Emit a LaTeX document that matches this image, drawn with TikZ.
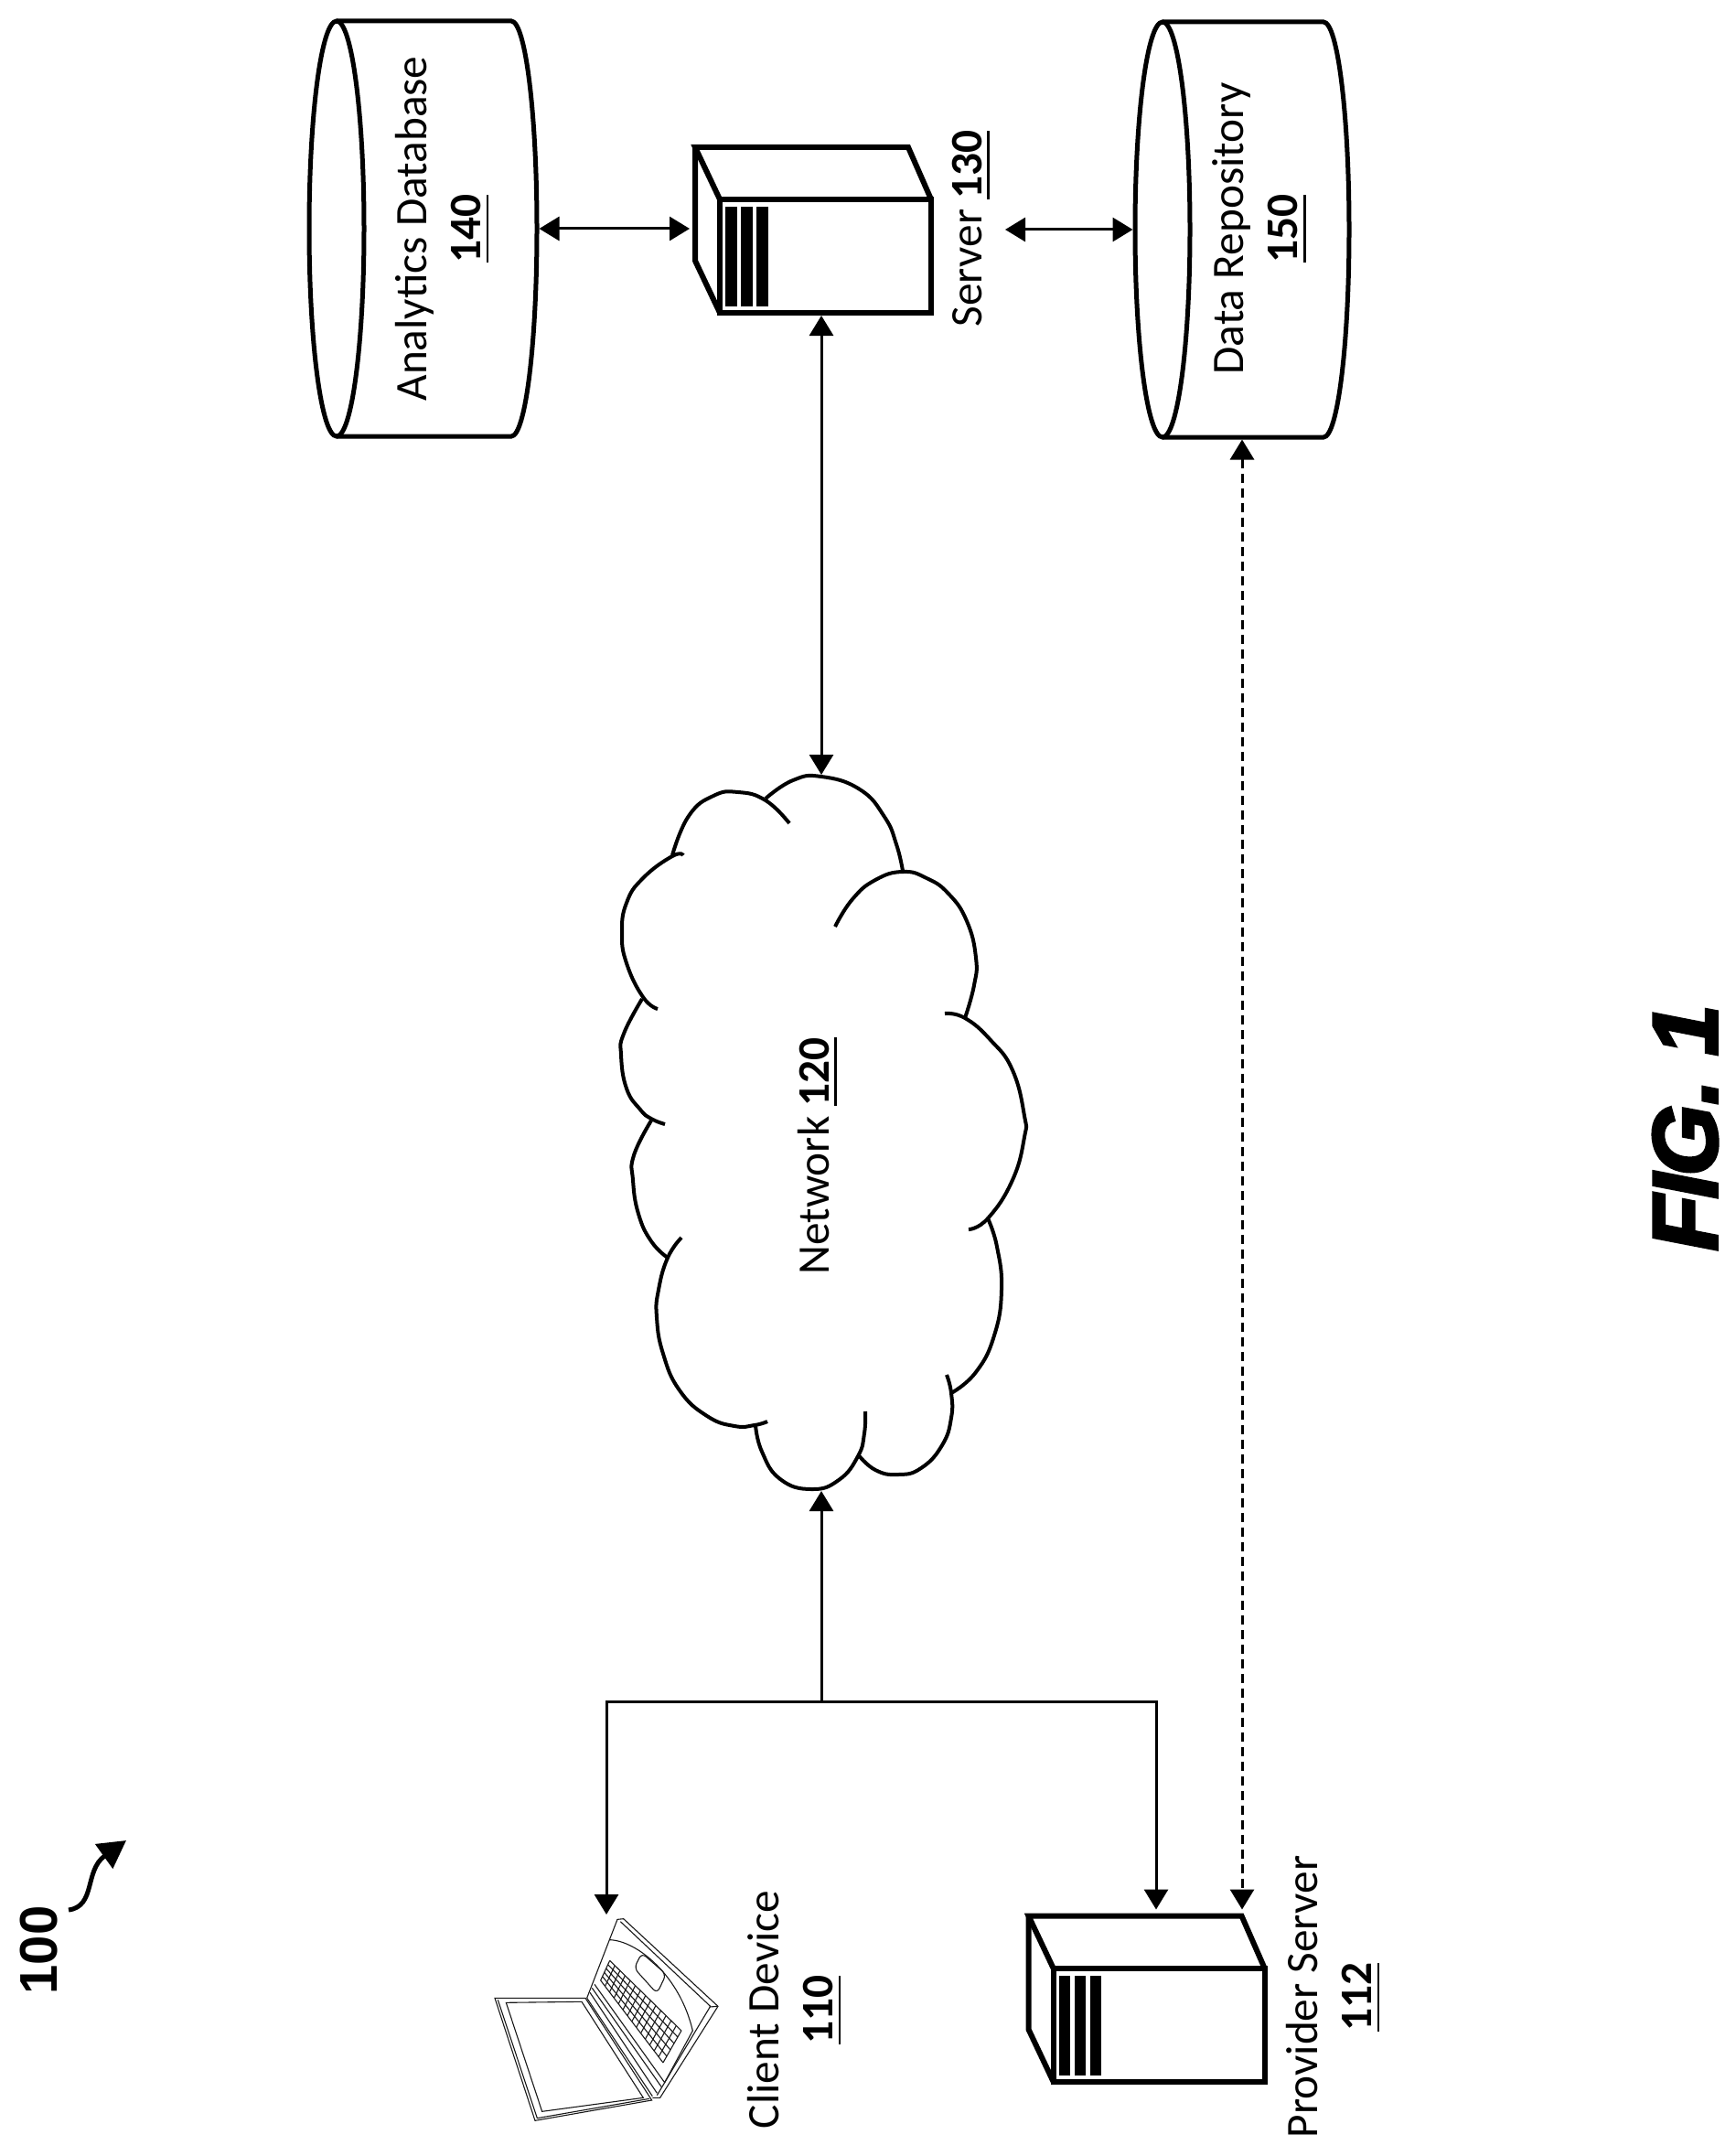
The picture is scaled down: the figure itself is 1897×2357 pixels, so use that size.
\documentclass[tikz,border=0pt]{standalone}
\usepackage{fontspec}
\setmainfont{Carlito}
\newfontfamily\refnumfont{Liberation Sans Bold}
\newfontfamily\figfont[FakeBold=3.5]{Liberation Sans Bold Italic}
\usetikzlibrary{shapes.geometric, arrows.meta, positioning, calc}

\newcommand{\refnum}[1]{\setbox0\hbox{\bfseries #1}\rlap{\rule[-9pt]{\wd0}{2.6pt}}\box0}
% front face node plus top and side faces
\newcommand{\serverbox}[2]{
    \node [serverfront] (#1) at (#2) {};
    \coordinate (#1nw) at ([shift={(3,3)}]#1.north west);
    \coordinate (#1top) at ([shift={(-3,-61)}]#1.north);
    \coordinate (#1corner) at ([shift={(-28,-61)}]#1.north east);
    \coordinate (#1side) at ([shift={(-30,-29)}]#1.west);
    \draw [serverline] (#1nw) -- ++(-27,-57) -- ++(233,0) -- ++(25,57);
    \draw [serverline] (#1nw) ++(-27,-57) -- ++(0,124) -- ([shift={(3,-3)}]#1.south west);
    \foreach \barx in {6,23,40} {
        \fill ([shift={(\barx,8)}]#1nw) rectangle ++(12.5,109);
    }
}
% drum lying on its side, open ellipse on the left
\newcommand{\dbdrum}[3]{
    \node [dbase, minimum width=#3] (#1) at (#2) {};
    \draw [dbline] ([xshift=32.5]#1.west) ellipse [x radius=30pt, y radius=227pt];
    \draw [dbline] ([shift={(32.5,2.5)}]#1.north west) -- ([shift={(-30.5,2.5)}]#1.north east)
        arc [start angle=90, end angle=-90, x radius=28pt, y radius=227pt]
        -- ([shift={(32.5,-2.5)}]#1.south west);
}

\begin{document}
\begin{tikzpicture}[
        x=1pt, y=-1pt,
        >={Triangle[length=22pt,width=26pt]},
        line/.style={draw, line width=3pt},
        dashline/.style={line, dash pattern=on 10pt off 6pt},
        cloudline/.style={draw, line width=4pt},
        dbase/.style={rectangle, outer sep=2.5pt, minimum height=454},
        dbline/.style={draw, line width=5pt},
        serverfront/.style={rectangle, draw, line width=6pt, minimum width=231, minimum height=124},
        serverline/.style={draw, line width=6pt, line join=miter},
        laptopline/.style={draw=black!90, line width=1.1pt},
        caption/.style={rotate=90, align=center, inner sep=0pt, font=\fontsize{49.3}{59}\selectfont},
        refarrow/.style={draw, line width=5pt, -{Triangle[length=30pt,width=32pt]}}
    ]
        \useasboundingbox (0,0) rectangle (1897,2357);

        % Nodes
        \dbdrum{analytics}{462.5,250}{249}
        \dbdrum{datarepo}{1358,251}{234}
        \serverbox{servermain}{902.5,280}
        \serverbox{provider}{1267,2213.5}
        \node [caption] (analyticslabel) at (483,250) {Analytics Database\\\refnum{140}};
        \node [caption] (datalabel) at (1377,250) {Data Repository\\\refnum{150}};
        \node [caption, anchor=base] (serverlabel) at (1073,250) {Server \refnum{130}};
        \node [caption, anchor=base] (networklabel) at (906,1264) {Network \refnum{120}};
        \node [caption] (clientlabel) at (868,2197) {Client Device\\\refnum{110}};
        \node [caption] (providerlabel) at (1457,2183) {Provider Server\\\refnum{112}};
        \node [rotate=90, anchor=base, inner sep=0pt, font=\fontsize{58}{58}\refnumfont] (figref) at (62,2132) {100};
        \node [rotate=90, anchor=base, inner sep=0pt, font=\fontsize{100}{100}\figfont] (figtitle) at (1877,1233) {F\kern-4pt I\kern-3pt G.\kern26pt 1};

        \coordinate (cloudtop) at (898,847);
        \coordinate (cloudbottom) at (898,1630);
        \coordinate (junction) at (898,1860);
        \coordinate (laptoptop) at (663,2093);
        \coordinate (repofree) at (1099,251);
        \coordinate (refstart) at (75,2088);
        \coordinate (reftip) at (138,2012);

        % Network cloud
        \tikzset{lobe/.style={smooth, tension=0.8}}
        \draw [cloudline] plot [lobe] coordinates {(837,873) (867,853) (898,849) (940,863) (967,893) (980,923) (987,952)};
        \draw [cloudline] plot [lobe] coordinates {(735,935) (753,892) (780,870) (807,866) (837,875) (863,900)};
        \draw [cloudline] plot [lobe] coordinates {(747,935) (735,936) (703,960) (685,987) (680,1020) (685,1053) (703,1090) (719,1103)};
        \draw [cloudline] plot [lobe] coordinates {(702,1092) (682,1130) (679,1153) (685,1190) (700,1213) (712,1223) (727,1229)};
        \draw [cloudline] plot [lobe] coordinates {(712,1225) (693,1263) (692,1290) (698,1327) (712,1357) (730,1375)};
        \draw [cloudline] plot [lobe] coordinates {(745,1353) (730,1375) (720,1410) (718,1440) (725,1480) (743,1520) (773,1548) (803,1559) (825,1558) (839,1554)};
        \draw [cloudline] plot [lobe] coordinates {(826,1558) (833,1587) (853,1617) (887,1628) (917,1618) (938,1592) (945,1567) (946,1543)};
        \draw [cloudline] plot [lobe] coordinates {(938,1590) (957,1607) (982,1612) (1007,1605) (1030,1580) (1040,1550) (1040,1523) (1035,1503)};
        \draw [cloudline] plot [lobe] coordinates {(1040,1523) (1067,1500) (1087,1460) (1095,1410) (1090,1363) (1080,1332)};
        \draw [cloudline] plot [lobe] coordinates {(1059,1344) (1080,1332) (1107,1290) (1120,1243) (1120,1220) (1107,1170) (1083,1137) (1055,1113) (1033,1108)};
        \draw [cloudline] plot [lobe] coordinates {(1055,1113) (1065,1077) (1067,1047) (1057,1007) (1037,977) (1013,960) (987,953) (957,962) (932,983) (913,1013)};

        % Laptop
        \begin{scope}[shift={(510,2050)}, x=0.3333pt, y=-0.3333pt, every path/.style={laptopline}]
            \draw (93,403) -- (390,403) -- (608,738) -- (225,805) -- cycle;
            \draw (103,409) -- (232,797) -- (600,733);
            \draw (130,418) -- (378,415) -- (580,730) -- (248,775) -- cycle;
            \draw (395,403) -- (495,145) -- (515,143) -- (825,430) -- (635,730) -- (610,730);
            \draw (505,152) -- (800,430) -- (625,722);
            \draw (825,430) -- (797,432);
            \draw (395,403) -- (610,725);
            \draw (405,385) -- (625,715);
            \draw (412,370) -- (640,695);
            \draw (420,358) -- (650,680) -- (742,510);
            \draw (470,212) .. controls (560,215) and (700,330) .. (742,510);
            \draw [rounded corners=6pt] (575,255) -- (655,325) -- (625,388) -- (550,305) -- cycle;
            \coordinate (keya) at (470,280);
            \coordinate (keyb) at (705,510);
            \coordinate (keyc) at (645,615);
            \coordinate (keyd) at (440,345);
            \foreach \t in {0,0.0714,...,1.01} {
                \draw ($(keya)!\t!(keyb)$) -- ($(keyd)!\t!(keyc)$);
            }
            \foreach \t in {0,0.2,...,1.01} {
                \draw ($(keya)!\t!(keyd)$) -- ($(keyb)!\t!(keyc)$);
            }
        \end{scope}

        % Paths
        \draw [line, <->] (analytics.east) -- (analytics.east -| servermainside);
        \draw [line, <->] (repofree) -- (datarepo.west);
        \draw [line, <->] (servermain.south -| cloudtop) -- (cloudtop);
        \draw [line, ->] (junction) -- (cloudbottom);
        \draw [line, ->] (junction) -| (laptoptop);
        \draw [line, ->] (junction) -| (providertop);
        \draw [dashline, <->] (datarepo.south) -- (datarepo.south |- providercorner);
        \draw [refarrow] (refstart) .. controls (105,2084) and (92,2045) .. (reftip);
    \end{tikzpicture}
\end{document}
